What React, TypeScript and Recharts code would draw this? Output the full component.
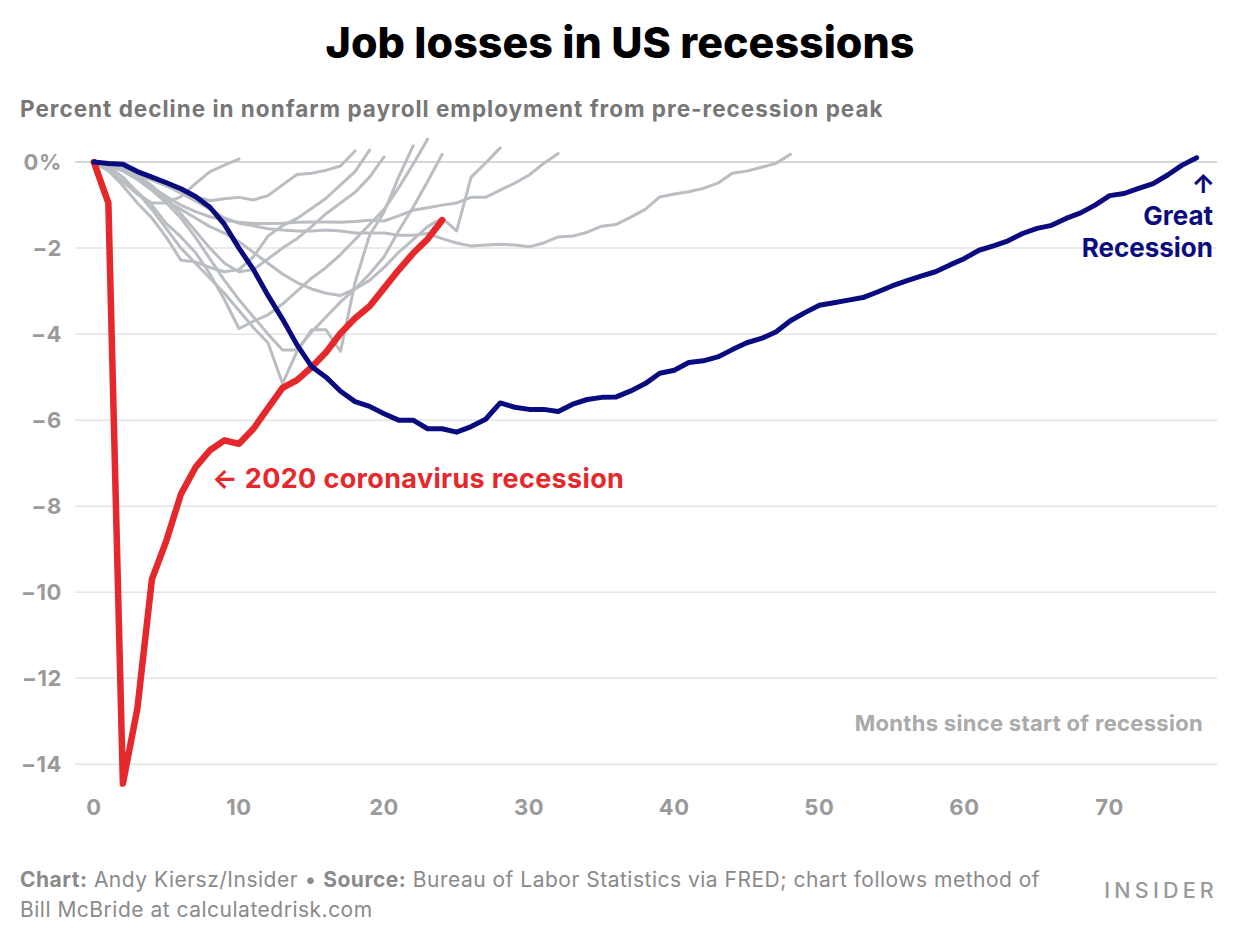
import React from 'react';
import { LineChart, Line, XAxis, YAxis, CartesianGrid, ReferenceLine } from 'recharts';

// percent change in payrolls from pre-recession peak, by month since peak
const covid2020 = [0, -0.95, -14.45, -12.7, -9.7, -8.8, -7.72, -7.1, -6.7, -6.47, -6.55, -6.2, -5.72, -5.25, -5.07, -4.77, -4.42, -3.98, -3.63, -3.35, -2.93, -2.51, -2.12, -1.79, -1.35];

const great2008 = [
  0, -0.03, -0.05, -0.22, -0.35, -0.48, -0.62, -0.8, -1.05, -1.45,
  -2.0, -2.5, -3.1, -3.65, -4.25, -4.75, -5.0, -5.33, -5.57, -5.68,
  -5.85, -6.0, -6.0, -6.2, -6.2, -6.28, -6.15, -5.98, -5.6, -5.7,
  -5.75, -5.75, -5.8, -5.63, -5.52, -5.47, -5.46, -5.32, -5.15, -4.91,
  -4.84, -4.66, -4.62, -4.53, -4.36, -4.2, -4.1, -3.95, -3.69, -3.5,
  -3.33, -3.27, -3.21, -3.15, -3.02, -2.88, -2.76, -2.65, -2.55, -2.39,
  -2.24, -2.05, -1.95, -1.83, -1.66, -1.54, -1.47, -1.31, -1.18, -1.0,
  -0.78, -0.73, -0.61, -0.5, -0.3, -0.07, 0.1,
];

const r1948 = [0, -0.1, -0.35, -0.7, -1.1, -1.55, -2.0, -2.35, -2.7, -3.05, -3.45, -3.85, -4.2, -5.15, -4.4, -3.9, -3.9, -4.4, -2.8, -1.7, -1.16, -0.35, 0.38];
const r1953 = [0, -0.2, -0.45, -0.7, -1.0, -1.43, -1.74, -2.1, -2.6, -3.2, -3.87, -3.7, -3.55, -3.3, -3.0, -2.7, -2.45, -2.15, -1.8, -1.45, -1.1, -0.6, -0.05, 0.53];
const r1957 = [0, -0.1, -0.2, -0.4, -0.65, -0.95, -1.3, -1.75, -2.25, -2.75, -3.2, -3.6, -4.0, -4.37, -4.37, -3.95, -3.6, -3.25, -2.95, -2.6, -2.2, -1.6, -1.05, -0.45, 0.18];
const r1960 = [0, -0.2, -0.55, -0.95, -1.3, -1.75, -2.28, -2.32, -2.45, -2.55, -2.5, -2.2, -1.72, -1.48, -1.31, -1.08, -0.84, -0.53, -0.22, 0.28];
const r1969 = [0, -0.05, -0.15, -0.28, -0.42, -0.55, -0.68, -0.8, -0.9, -0.85, -0.82, -0.88, -0.78, -0.53, -0.29, -0.26, -0.19, -0.09, 0.26];
const r1973 = [0, -0.05, -0.15, -0.3, -0.55, -0.85, -1.2, -1.6, -2.0, -2.35, -2.55, -2.5, -2.25, -2.0, -1.78, -1.5, -1.2, -0.95, -0.7, -0.35, 0.12];
const r1980 = [0, -0.15, -0.45, -0.75, -0.95, -0.95, -0.8, -0.5, -0.22, -0.07, 0.07];
const r1981 = [0, -0.05, -0.2, -0.4, -0.65, -0.9, -1.1, -1.3, -1.5, -1.65, -1.85, -2.1, -2.35, -2.6, -2.8, -2.95, -3.05, -3.1, -2.95, -2.75, -2.45, -2.1, -1.8, -1.5, -1.3, -1.6, -0.35, -0.02, 0.33];
const r1990 = [0, -0.08, -0.2, -0.38, -0.58, -0.8, -1.0, -1.15, -1.27, -1.35, -1.4, -1.43, -1.43, -1.42, -1.4, -1.39, -1.39, -1.4, -1.38, -1.35, -1.37, -1.25, -1.12, -1.06, -1.0, -0.95, -0.82, -0.82, -0.65, -0.49, -0.3, -0.03, 0.2];
const r2001 = [
  0, -0.05, -0.15, -0.28, -0.4, -0.55, -0.72, -0.9, -1.1, -1.3,
  -1.42, -1.48, -1.55, -1.58, -1.6, -1.6, -1.58, -1.6, -1.65, -1.65,
  -1.65, -1.7, -1.7, -1.66, -1.78, -1.88, -1.95, -1.93, -1.91, -1.93,
  -1.97, -1.88, -1.74, -1.72, -1.63, -1.49, -1.45, -1.28, -1.1, -0.81,
  -0.74, -0.69, -0.61, -0.49, -0.26, -0.21, -0.12, -0.03, 0.18,
];

const xTicks = [0, 10, 20, 30, 40, 50, 60, 70];
const yTicks = [0, -2, -4, -6, -8, -10, -12, -14];

const grayKeys: [string, number[]][] = [
  ['r1948', r1948], ['r1953', r1953], ['r1957', r1957], ['r1960', r1960], ['r1969', r1969],
  ['r1973', r1973], ['r1980', r1980], ['r1981', r1981], ['r1990', r1990], ['r2001', r2001],
];

const data = great2008.map((g, i) => {
  const row: Record<string, number> = { month: i, great: g };
  if (i < covid2020.length) row.covid = covid2020[i];
  grayKeys.forEach(([k, arr]) => {
    if (i < arr.length) row[k] = arr[i];
  });
  return row;
});

const FONT = 'Inter, "Open Sans", sans-serif';
const GRAY_TEXT = '#9a9a9a';
const RED = '#e5282b';
const NAVY = '#0b0b80';

const fmtY = (v: number) => (v === 0 ? '0%' : '\u2212' + Math.abs(v));

const tickStyle = { fill: GRAY_TEXT, fontSize: 22, fontWeight: 700, fontFamily: FONT, letterSpacing: 0.6 };

export default function App() {
  return (
    <div style={{ position: 'absolute', left: 0, top: 0, width: 1240, height: 940, background: '#fff', fontFamily: FONT, overflow: 'hidden' }}>
      <div style={{ position: 'absolute', top: 21, left: 0, width: 1240, textAlign: 'center', fontSize: 43, lineHeight: '43px', fontWeight: 800, color: '#000' }}>
        Job losses in US recessions
      </div>
      <div style={{ position: 'absolute', top: 98, left: 20, fontSize: 22.5, lineHeight: '22px', fontWeight: 700, color: '#777', letterSpacing: 1.0 }}>
        Percent decline in nonfarm payroll employment from pre-recession peak
      </div>

      <div style={{ position: 'absolute', left: 0, top: 0 }}>
        <LineChart width={1240} height={840} data={data} margin={{ top: 132, right: 23, left: 15, bottom: 20 }}>
          <CartesianGrid vertical={false} horizontalValues={yTicks} stroke="#e4e4e4" strokeWidth={1.5} />
          <ReferenceLine y={0} stroke="#cfcfcf" strokeWidth={1.5} />
          <XAxis
            type="number"
            dataKey="month"
            domain={[-1.3, 77.4]}
            ticks={xTicks}
            allowDataOverflow
            tickLine={false}
            axisLine={false}
            tickSize={0}
            tickMargin={9}
            tick={tickStyle}
          />
          <YAxis
            type="number"
            domain={[-14.6, 0.7]}
            ticks={yTicks}
            allowDataOverflow
            width={60}
            tickLine={false}
            axisLine={false}
            tickSize={0}
            tickMargin={13}
            tickFormatter={fmtY}
            tick={tickStyle}
          />
          {grayKeys.map(([k]) => (
            <Line
              key={k}
              type="linear"
              dataKey={k}
              stroke="#babec2"
              strokeWidth={3}
              dot={false}
              activeDot={false}
              strokeLinejoin="round"
              strokeLinecap="round"
              isAnimationActive={false}
            />
          ))}
          <Line type="linear" dataKey="covid" stroke={RED} strokeWidth={6.5} dot={false} activeDot={false} strokeLinejoin="round" strokeLinecap="round" isAnimationActive={false} />
          <Line type="linear" dataKey="great" stroke={NAVY} strokeWidth={5} dot={false} activeDot={false} strokeLinejoin="round" strokeLinecap="round" isAnimationActive={false} />
        </LineChart>
      </div>

      <div style={{ position: 'absolute', top: 712, right: 37, fontSize: 22, lineHeight: '22px', fontWeight: 700, color: '#aaa', letterSpacing: 0.3 }}>
        Months since start of recession
      </div>

      <div style={{ position: 'absolute', top: 465, left: 212, fontSize: 27, lineHeight: '27px', fontWeight: 700, color: RED, letterSpacing: 0.35 }}>
        ← 2020 coronavirus recession
      </div>

      <div style={{ position: 'absolute', top: 168, right: 27, fontSize: 26, lineHeight: '32px', fontWeight: 700, color: NAVY, textAlign: 'right' }}>
        <div style={{ marginRight: -2 }}>↑</div>
        <div>Great</div>
        <div>Recession</div>
      </div>

      <div style={{ position: 'absolute', top: 865, left: 20, fontSize: 21, lineHeight: '30px', color: '#8a8a8a', letterSpacing: 0.5 }}>
        <div>
          <b>Chart:</b> Andy Kiersz/Insider • <b>Source:</b> Bureau of Labor Statistics via FRED; chart follows method of
        </div>
        <div>Bill McBride at calculatedrisk.com</div>
      </div>

      <div style={{ position: 'absolute', top: 879, right: 22, fontSize: 21.5, lineHeight: '22px', letterSpacing: 4.2, color: '#999', fontWeight: 500 }}>
        INSIDER
      </div>
    </div>
  );
}
